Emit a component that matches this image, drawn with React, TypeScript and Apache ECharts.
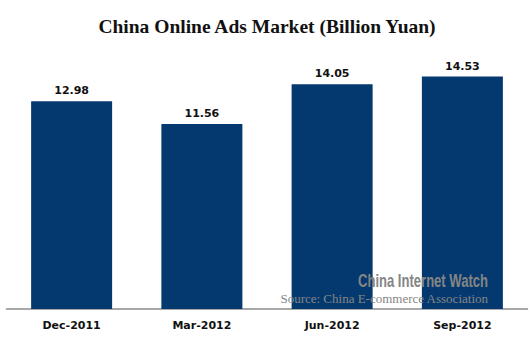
import React, { useEffect, useRef } from "react";
import * as echarts from "echarts";

const categories = ["Dec-2011", "Mar-2012", "Jun-2012", "Sep-2012"];
const values = [12.98, 11.56, 14.05, 14.53];
const titleText = "China Online Ads Market (Billion Yuan)";
const watermarkText = "China Internet Watch";
const sourceText = "Source: China E-commerce Association";

function measure(text: string, font: string): number {
  const c = document.createElement("canvas").getContext("2d");
  if (!c) return text.length * 8;
  c.font = font;
  return c.measureText(text).width;
}

export default function App() {
  const ref = useRef<HTMLDivElement>(null);
  useEffect(() => {
    if (!ref.current) return;
    const chart = echarts.init(ref.current, null, { renderer: "svg" });
    const wmFont = "bold 18px 'Liberation Sans'";
    const wmWidth = measure(watermarkText, wmFont);
    const wmScale = 130 / wmWidth;
    chart.setOption({
      animation: false,
      backgroundColor: "#ffffff",
      title: {
        text: titleText,
        left: 262,
        textAlign: "center",
        top: 11,
        textStyle: {
          fontFamily: "Liberation Serif",
          fontWeight: "bold",
          fontSize: 19.5,
          color: "#111111",
        },
      },
      grid: { left: 6.5, right: 3.5, top: 53, bottom: 33, containLabel: false },
      xAxis: {
        type: "category",
        data: categories,
        axisLine: { show: true, lineStyle: { color: "#8c8c8c", width: 1.5 } },
        axisTick: { show: false },
        axisLabel: {
          margin: 11,
          fontFamily: "DejaVu Sans",
          fontWeight: "bold",
          fontSize: 11,
          color: "#111111",
        },
      },
      yAxis: {
        type: "value",
        min: 0,
        max: 16,
        show: false,
        splitLine: { show: false },
      },
      series: [
        {
          type: "bar",
          data: values,
          barWidth: 81,
          itemStyle: { color: "#04396f" },
          label: {
            show: true,
            position: "top",
            distance: 5,
            formatter: (p: any) => p.value.toFixed(2),
            fontFamily: "DejaVu Sans",
            fontWeight: "bold",
            fontSize: 11,
            color: "#111111",
          },
        },
      ],
      graphic: [
        {
          type: "text",
          x: 488,
          y: 281,
          scaleX: wmScale,
          z: 100,
          style: {
            text: watermarkText,
            fontFamily: "Liberation Sans",
            fontWeight: "bold",
            fontSize: 18,
            fill: "#858585",
            textAlign: "right",
            textVerticalAlign: "middle",
          },
        },
        {
          type: "text",
          x: 488,
          y: 298,
          z: 100,
          style: {
            text: sourceText,
            fontFamily: "Liberation Serif",
            fontSize: 13,
            fill: "#858585",
            textAlign: "right",
            textVerticalAlign: "middle",
          },
        },
      ],
    });
    return () => chart.dispose();
  }, []);
  return <div ref={ref} style={{ width: 531, height: 342, position: "fixed", left: 0, top: 0 }} />;
}
